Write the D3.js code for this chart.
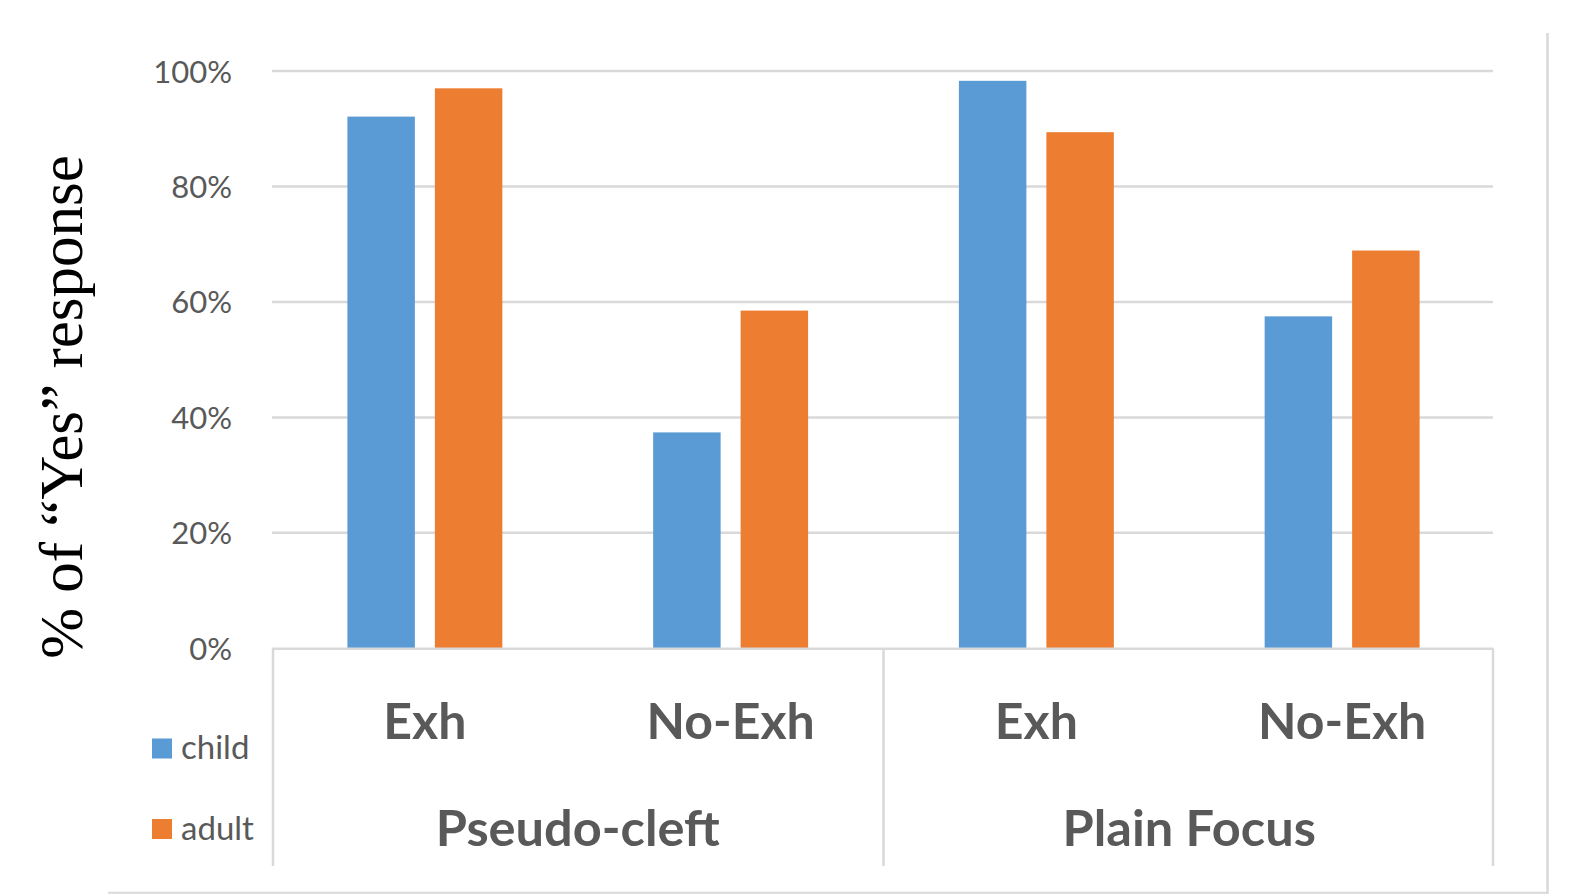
<!DOCTYPE html>
<html>
<head>
<meta charset="utf-8">
<script src="https://cdn.jsdelivr.net/npm/d3@7"></script>
<style>
  html, body { margin: 0; padding: 0; background: #ffffff; }
  svg { display: block; }
</style>
</head>
<body>
<svg id="chart" width="1586" height="894"></svg>
<script>
// Two-level categories: condition within structure type
const categories = ["Exh", "No-Exh", "Exh", "No-Exh"];
const groups = ["Pseudo-cleft", "Plain Focus"];
const categoryGroup = [0, 0, 1, 1];
const seriesNames = ["child", "adult"];
const childValues = [0.921, 0.374, 0.983, 0.575];
const adultValues = [0.970, 0.585, 0.894, 0.689];
const yTicks = [0, 0.2, 0.4, 0.6, 0.8, 1.0];
const yTitle = "% of \u201cYes\u201d response";

const colors = { child: "#5b9bd5", adult: "#ed7d31" };
const textColor = "#595959";
const lineColor = "#d9d9d9";
const sansFont = "Lato, 'Open Sans', sans-serif";

const svg = d3.select("#chart");

const plot = { left: 272, right: 1495, top: 71, bottom: 648.3, axisBottom: 866 };

const x0 = d3.scaleBand()
  .domain(d3.range(categories.length))
  .range([plot.left, plot.right])
  .padding(0);

const x1 = d3.scaleBand()
  .domain(seriesNames)
  .range([0, x0.bandwidth()])
  .paddingInner(0.2286)
  .paddingOuter(0.862);

const y = d3.scaleLinear().domain([0, 1]).range([plot.bottom, plot.top]);

// Outer chart-area border (right and bottom edges)
svg.append("line")
  .attr("x1", 1547.5).attr("x2", 1547.5).attr("y1", 33).attr("y2", 894)
  .attr("stroke", lineColor).attr("stroke-width", 2.5);
svg.append("line")
  .attr("x1", 108).attr("x2", 1548).attr("y1", 892.7).attr("y2", 892.7)
  .attr("stroke", lineColor).attr("stroke-width", 2);

// Horizontal gridlines
svg.append("g")
  .selectAll("line")
  .data(yTicks.filter(t => t > 0))
  .join("line")
  .attr("x1", plot.left).attr("x2", plot.right - 2)
  .attr("y1", d => y(d)).attr("y2", d => y(d))
  .attr("stroke", lineColor).attr("stroke-width", 2.5);

// Y tick labels
svg.append("g")
  .selectAll("text")
  .data(yTicks)
  .join("text")
  .attr("x", 232)
  .attr("y", d => y(d) + 11.5)
  .attr("text-anchor", "end")
  .attr("font-family", sansFont)
  .attr("font-size", 31)
  .attr("fill", textColor)
  .text(d => d3.format(".0%")(d));

// Bars
const rows = categories.map((c, i) => ({ i, child: childValues[i], adult: adultValues[i] }));
svg.append("g")
  .selectAll("g")
  .data(rows)
  .join("g")
  .attr("transform", d => `translate(${x0(d.i)},0)`)
  .selectAll("rect")
  .data(d => seriesNames.map(s => ({ s, v: d[s] })))
  .join("rect")
  .attr("x", d => x1(d.s))
  .attr("width", x1.bandwidth())
  .attr("y", d => y(d.v))
  .attr("height", d => y(0) - y(d.v))
  .attr("fill", d => colors[d.s]);

// Category axis: baseline and group separators
svg.append("line")
  .attr("x1", plot.left).attr("x2", plot.right - 2)
  .attr("y1", plot.bottom + 0.5).attr("y2", plot.bottom + 0.5)
  .attr("stroke", lineColor).attr("stroke-width", 2.5);

const separatorX = [plot.left + 1, x0(2), plot.right - 2];
svg.append("g")
  .selectAll("line")
  .data(separatorX)
  .join("line")
  .attr("x1", d => d).attr("x2", d => d)
  .attr("y1", plot.bottom).attr("y2", plot.axisBottom)
  .attr("stroke", lineColor).attr("stroke-width", 2.5);

// Category labels
svg.append("g")
  .selectAll("text")
  .data(categories)
  .join("text")
  .attr("x", (d, i) => x0(i) + x0.bandwidth() / 2)
  .attr("y", 738.5)
  .attr("text-anchor", "middle")
  .attr("font-family", sansFont)
  .attr("font-weight", "bold")
  .attr("font-size", 50)
  .attr("fill", textColor)
  .text(d => d);

// Group labels, centred under their categories
svg.append("g")
  .selectAll("text")
  .data(groups)
  .join("text")
  .attr("x", (d, g) => {
    const idx = categoryGroup.map((cg, i) => cg === g ? i : -1).filter(i => i >= 0);
    return (x0(idx[0]) + x0(idx[idx.length - 1]) + x0.bandwidth()) / 2;
  })
  .attr("y", 845.5)
  .attr("text-anchor", "middle")
  .attr("font-family", sansFont)
  .attr("font-weight", "bold")
  .attr("font-size", 50.5)
  .attr("fill", textColor)
  .text(d => d);

// Legend
const legend = svg.append("g")
  .selectAll("g")
  .data(seriesNames)
  .join("g")
  .attr("transform", (d, i) => `translate(152,${738.5 + i * 80.5})`);
legend.append("rect")
  .attr("width", 20).attr("height", 20)
  .attr("fill", d => colors[d]);
legend.append("text")
  .attr("x", 29).attr("y", 20.5)
  .attr("font-family", sansFont)
  .attr("font-size", 33)
  .attr("fill", textColor)
  .text(d => d);

// Y axis title
svg.append("text")
  .attr("transform", "translate(82,407) rotate(-90)")
  .attr("text-anchor", "middle")
  .attr("font-family", "'Liberation Serif', 'Times New Roman', serif")
  .attr("font-size", 61)
  .attr("fill", "#000000")
  .text(yTitle);
</script>
</body>
</html>
